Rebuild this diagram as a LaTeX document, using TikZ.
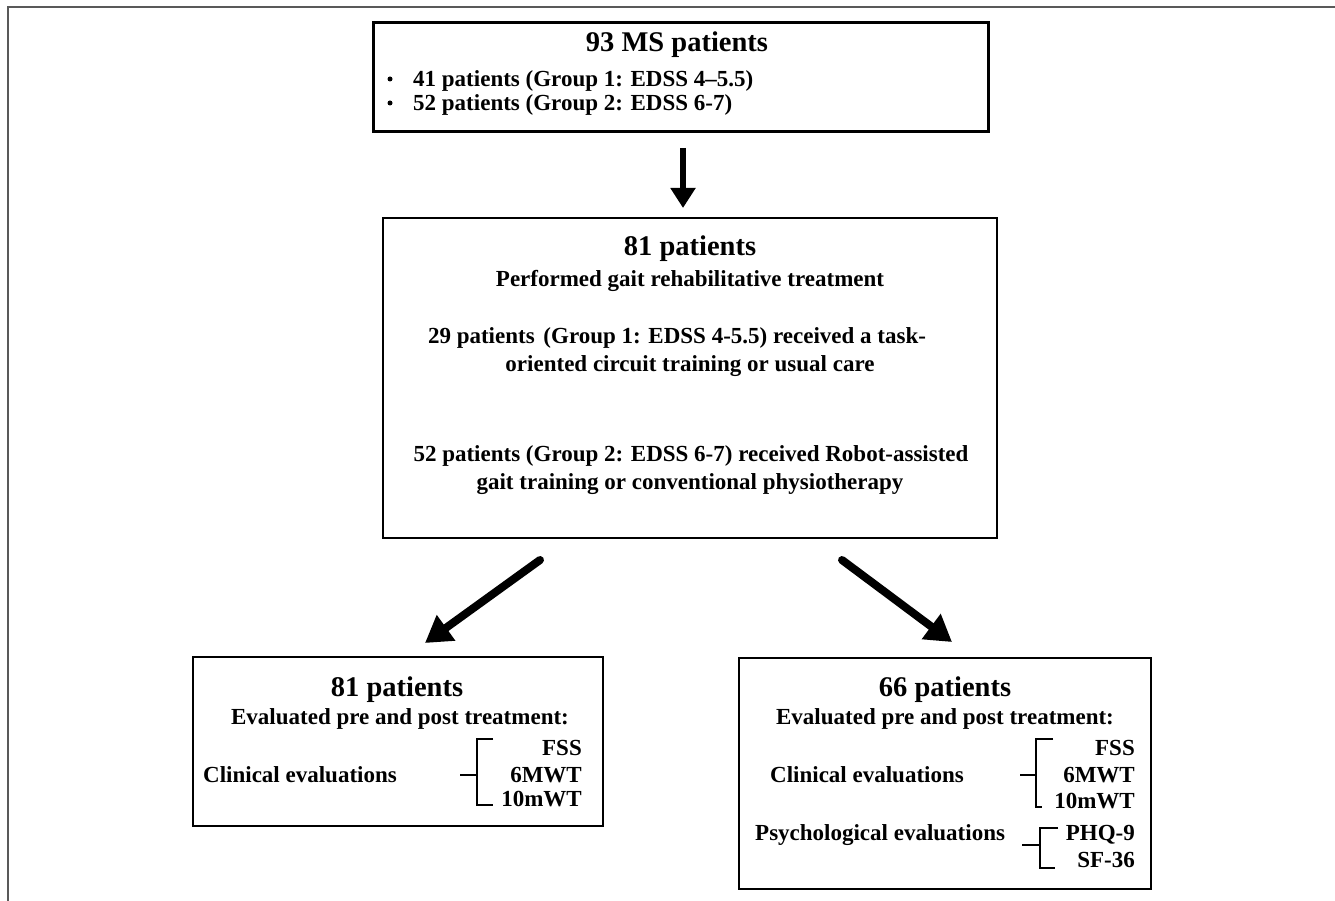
\documentclass[tikz,border=0pt]{standalone}
\usepackage{fontspec}
\setmainfont{Liberation Serif}
\usetikzlibrary{arrows.meta}
\begin{document}
\begin{tikzpicture}[x=1pt,y=-1pt,
  box/.style={draw=black,line width=2pt,inner sep=0pt,outer sep=0pt},
  ttl/.style={font=\fontsize{28.5}{34}\selectfont\bfseries,inner sep=0pt,anchor=base},
  txt/.style={font=\fontsize{23}{28}\selectfont\bfseries,inner sep=0pt,anchor=base},
  txtl/.style={txt,anchor=base west},
  txtr/.style={txt,anchor=base east},
  arrowv/.style={line width=6pt,-{Triangle[length=20pt,width=24pt]}},
  arrowd/.style={line width=8pt,line cap=round,-{Triangle[length=26pt,width=30pt]}},
  brace/.style={line width=2pt}
]
\useasboundingbox (0,0) rectangle (1335,901);
\draw[line width=2pt,draw=black!65] (8,901) -- (8,7) -- (1335,7);

% boxes
\node[box,line width=3pt,minimum width=615pt,minimum height=109pt] (top) at (680.5,77.5) {};
\node[box,minimum width=614pt,minimum height=320pt] (mid) at (690,378) {};
\node[box,minimum width=410pt,minimum height=169pt] (bl) at (398,741.5) {};
\node[box,minimum width=412pt,minimum height=231pt] (br) at (945,773.5) {};

% top box text
\node[ttl] (t1) at (677,52) {93 MS patients};
\node[circle,fill=black,minimum size=5pt,inner sep=0pt] (b1) at (390,79) {};
\node[circle,fill=black,minimum size=5pt,inner sep=0pt] (b2) at (390,103) {};
\node[txtl] (l1) at (413,87) {41 patients (Group 1: EDSS 4–5.5)};
\node[txtl] (l2) at (413,111) {52 patients (Group 2: EDSS 6-7)};

% middle box text
\node[ttl] (m1) at (690,255) {81 patients};
\node[txt] (m2) at (690,286) {Performed gait rehabilitative treatment};
\node[txt] (m3) at (677,343) {29 patients\hspace{3pt} (Group 1: EDSS 4-5.5) received a task-};
\node[txt] (m4) at (690,371) {oriented circuit training or usual care};
\node[txt] (m5) at (691,461) {52 patients (Group 2: EDSS 6-7) received Robot-assisted};
\node[txt] (m6) at (690,489) {gait training or conventional physiotherapy};

% bottom-left text
\node[ttl] (p1) at (397,696) {81 patients};
\node[txt] (p2) at (400,724) {Evaluated pre and post treatment:};
\node[txtl] (p3) at (203,782) {Clinical evaluations};
\node[txtr] (p4) at (582,755) {FSS};
\node[txtr] (p5) at (582,782) {6MWT};
\node[txtr] (p6) at (582,806) {10mWT};

% bottom-right text
\node[ttl] (q1) at (945,696) {66 patients};
\node[txt] (q2) at (945,724) {Evaluated pre and post treatment:};
\node[txtl] (q3) at (770,782) {Clinical evaluations};
\node[txtr] (q4) at (1135,755) {FSS};
\node[txtr] (q5) at (1135,782) {6MWT};
\node[txtr] (q6) at (1135,808) {10mWT};
\node[txtl] (q7) at (755,840) {Psychological evaluations};
\node[txtr] (q8) at (1135,840) {PHQ-9};
\node[txtr] (q9) at (1135,867) {SF-36};

% brackets
\draw[brace] (460,775) -- (477,775);
\draw[brace] (493,739) -- (477,739) -- (477,805) -- (493,805);
\draw[brace] (1020,775) -- (1036,775);
\draw[brace] (1053,739) -- (1036,739) -- (1036,807) -- (1042,807);
\draw[brace] (1022,845) -- (1040,845);
\draw[brace] (1058,828) -- (1040,828) -- (1040,868) -- (1055,868);

% arrows
\coordinate (a1s) at (683,148);
\coordinate (a1e) at (683,208);
\coordinate (a2s) at (540,560);
\coordinate (a2e) at (425,643);
\coordinate (a3s) at (842,560);
\coordinate (a3e) at (952,642);
\draw[arrowv] (a1s) -- (a1e);
\draw[arrowd] (a2s) -- (a2e);
\draw[arrowd] (a3s) -- (a3e);
\end{tikzpicture}
\end{document}
